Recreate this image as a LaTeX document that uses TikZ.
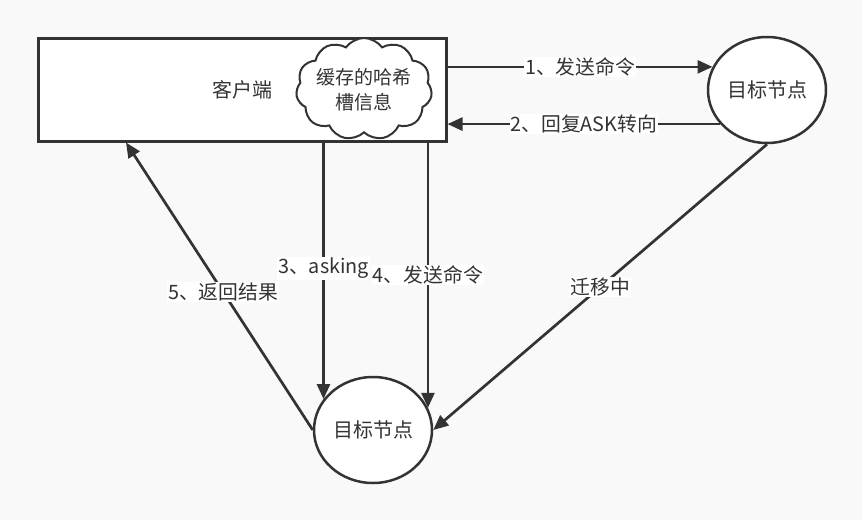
\documentclass[tikz,border=0pt]{standalone}
\usepackage{fontspec}
\setmainfont{Noto Sans CJK SC}
\usetikzlibrary{shapes.geometric,shapes.symbols,arrows.meta}
\definecolor{bgc}{HTML}{F9F9F9}
\definecolor{ink}{HTML}{333333}
\begin{document}
\begin{tikzpicture}[x=1pt,y=-1pt,
  every node/.style={text=ink},
  boxshape/.style={draw=ink, line width=3pt, fill=white, minimum width=408pt, minimum height=103pt, inner sep=0pt, font=\fontsize{20}{23}\selectfont},
  circnode/.style={ellipse, draw=ink, line width=2.5pt, fill=white, minimum width=118pt, minimum height=106pt, inner sep=0pt, font=\fontsize{20}{23}\selectfont},
  cloudnode/.style={cloud, cloud puffs=11, cloud puff arc=110, aspect=1.3, draw=ink, line width=2pt, fill=white, minimum width=136pt, minimum height=102pt, inner sep=0pt},
  arr/.style={draw=ink, line width=2.7pt, -{Triangle[length=15pt,width=13pt]}},
  lbl/.style={fill=white, inner sep=1pt, font=\fontsize{19.8}{23}\selectfont}
]
\fill[bgc] (0,0) rectangle (862,520);
\useasboundingbox (0,0) rectangle (862,520);

\node[boxshape] (client) at (242,89.5) {客户端};
\node[cloudnode] (cloudshape) at (364,89) {};
\node[align=center, font=\fontsize{19}{25}\selectfont] (cache) at (364,90) {缓存的哈希\\槽信息};
\node[circnode] (tr) at (767,90) {目标节点};
\node[circnode] (bl) at (373,430) {目标节点};

\draw[arr] (client.east |- tr.157) -- node[lbl] {1、发送命令} (tr.157);
\draw[arr] (tr.216) -- node[lbl] {2、回复ASK转向} (client.east |- tr.216);
\draw[arr] (bl.148 |- client.south) -- node[lbl, pos=0.49] {3、asking} (bl.148);
\draw[arr] (bl.22 |- client.south) -- node[lbl, pos=0.5] {4、发送命令} (bl.22);
\draw[arr] (bl.west) -- node[lbl, pos=0.48] {5、返回结果} (client.south -| 126,0);
\draw[arr] (tr.south) -- node[lbl] {迁移中} (bl.east);
\end{tikzpicture}
\end{document}
